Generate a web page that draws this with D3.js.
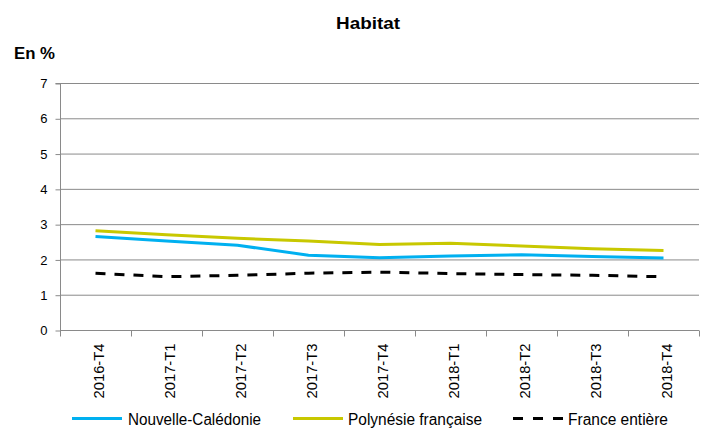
<!DOCTYPE html>
<html><head><meta charset="utf-8">
<script src="https://cdn.jsdelivr.net/npm/d3@7"></script>
<style>body{margin:0;background:#fff}svg{display:block}text{font-family:"Liberation Sans",Arial,sans-serif}</style>
</head><body><svg id="c" width="710" height="429"></svg>
<script>
const categories = ["2016-T4","2017-T1","2017-T2","2017-T3","2017-T4","2018-T1","2018-T2","2018-T3","2018-T4"];
const nouvelleCaledonie = [2.65,2.52,2.40,2.12,2.05,2.10,2.13,2.08,2.04];
const polynesie = [2.81,2.70,2.60,2.52,2.42,2.46,2.38,2.30,2.25];
const franceEntiere = [1.61,1.51,1.55,1.61,1.64,1.60,1.57,1.55,1.51];
const yTicks = [0,1,2,3,4,5,6,7];
const seriesNames = ["Nouvelle-Calédonie","Polynésie française","France entière"];

const svg = d3.select("#c");
const x = d3.scaleBand().domain(categories).range([60,699]);
const y = d3.scaleLinear().domain([0,7]).range([330,83]);

svg.append("text").attr("x",368).attr("y",29).attr("text-anchor","middle").attr("font-weight","bold").attr("font-size",16.5)
  .attr("font-family","'DejaVu Sans',sans-serif").attr("textLength",64).attr("lengthAdjust","spacingAndGlyphs").text("Habitat");
svg.append("text").attr("x",14).attr("y",59).attr("font-weight","bold").attr("font-size",16.5)
  .attr("font-family","'DejaVu Sans',sans-serif").attr("textLength",41).attr("lengthAdjust","spacingAndGlyphs").text("En %");

// gridlines
svg.append("g").selectAll("line").data(yTicks.filter(d=>d>0)).join("line")
  .attr("x1",60).attr("x2",699).attr("y1",d=>y(d)+0.5).attr("y2",d=>y(d)+0.5)
  .attr("stroke","#8a8a8a").attr("stroke-width",1);

const ya = svg.append("g").attr("transform","translate(60.5,0.5)").call(d3.axisLeft(y).tickValues(yTicks).tickSize(5).tickPadding(8).tickFormat(d3.format("d")));
ya.select(".domain").attr("stroke","#8a8a8a").attr("d","M-5,"+(y(7))+"H0V"+y(0));
ya.selectAll(".tick line").attr("stroke","#8a8a8a");
ya.selectAll("text").attr("font-size",13).attr("fill","#000").attr("font-family","'Liberation Sans',sans-serif");

// x axis
const xa = svg.append("g").attr("transform","translate(0,330.5)");
xa.append("line").attr("x1",60).attr("x2",699).attr("stroke","#8a8a8a");
const bounds = categories.map(c=>x(c)).concat([x.range()[1]]);
xa.selectAll("line.t").data(bounds).join("line").attr("class","t")
  .attr("x1",d=>Math.round(d)+0.5).attr("x2",d=>Math.round(d)+0.5).attr("y1",0).attr("y2",6).attr("stroke","#8a8a8a");
xa.selectAll("text").data(categories).join("text")
  .attr("transform",d=>`translate(${x(d)+x.bandwidth()/2+8},13) rotate(-90)`)
  .attr("text-anchor","end").attr("font-size",15.5).attr("textLength",55).attr("lengthAdjust","spacingAndGlyphs").text(d=>d);

const line = d3.line().x((d,i)=>x(categories[i])+x.bandwidth()/2).y(d=>y(d));
const series = [
  {v:nouvelleCaledonie,c:"#00b0f0",dash:null},
  {v:polynesie,c:"#c8c800",dash:null},
  {v:franceEntiere,c:"#000",dash:"10,9"}
];
series.forEach(s=>{
  svg.append("path").datum(s.v).attr("d",line).attr("fill","none").attr("stroke",s.c).attr("stroke-width",3).attr("stroke-dasharray",s.dash);
});

// legend
const leg = [{x1:72,x2:122,tx:128,tl:133},{x1:293,x2:343,tx:348,tl:134},{x1:513,x2:563,tx:568,tl:100}];
leg.forEach((l,i)=>{
  svg.append("line").attr("x1",l.x1).attr("x2",l.x2).attr("y1",418.5).attr("y2",418.5).attr("stroke",series[i].c).attr("stroke-width",3).attr("stroke-dasharray",i==2?"10,10":null);
  svg.append("text").attr("x",l.tx).attr("y",425).attr("font-size",16).attr("textLength",l.tl).attr("lengthAdjust","spacingAndGlyphs").text(seriesNames[i]);
});
</script></body></html>
